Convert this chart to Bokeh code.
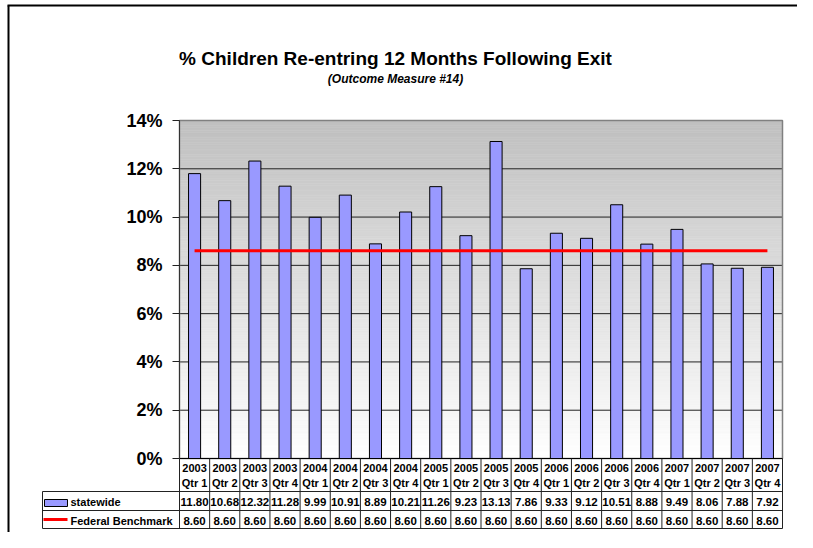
import numpy as np
from bokeh.plotting import figure
from bokeh.models import Range1d, LinearAxis, FixedTicker, PrintfTickFormatter
from bokeh.core.properties import value
from bokeh.embed import file_html
from bokeh.resources import INLINE

# ---------------- data ----------------
years = ["2003", "2003", "2003", "2003", "2004", "2004", "2004", "2004",
         "2005", "2005", "2005", "2005", "2006", "2006", "2006", "2006",
         "2007", "2007", "2007", "2007"]
quarters = ["Qtr 1", "Qtr 2", "Qtr 3", "Qtr 4", "Qtr 1", "Qtr 2", "Qtr 3", "Qtr 4",
            "Qtr 1", "Qtr 2", "Qtr 3", "Qtr 4", "Qtr 1", "Qtr 2", "Qtr 3", "Qtr 4",
            "Qtr 1", "Qtr 2", "Qtr 3", "Qtr 4"]
statewide = [11.80, 10.68, 12.32, 11.28, 9.99, 10.91, 8.89, 10.21, 11.26, 9.23,
             13.13, 7.86, 9.33, 9.12, 10.51, 8.88, 9.49, 8.06, 7.88, 7.92]
benchmark = [8.60, 8.60, 8.60, 8.60, 8.60, 8.60, 8.60, 8.60, 8.60, 8.60,
             8.60, 8.60, 8.60, 8.60, 8.60, 8.60, 8.60, 8.60, 8.60, 8.60]
series_names = ["statewide", "Federal Benchmark"]
y_ticks = [0, 2, 4, 6, 8, 10, 12, 14]
title_text = "% Children Re-entring 12 Months Following Exit"
subtitle_text = "(Outcome Measure #14)"

# ---------------- layout (page pixels) ----------------
W, H = 797, 532
OX, OY = 0, 0          # canvas origin on the page
PL, PR = 179, 782      # plot area left / right
PT, PB = 120, 458      # plot area top (14%) / bottom (0%)
n = len(statewide)
YMAX = y_ticks[-1]
SX = (PR - PL) / n
SY = (PB - PT) / YMAX


def X(px):
    return (px - PL) / SX


def Y(py):
    return (PB - py) / SY


FONT = value("Liberation Sans")
BAR_COLOR = "#9999FF"
LINE_COLOR = "#FF0000"

p = figure(width=W, height=H, output_backend="svg", toolbar_location=None,
           x_range=Range1d(X(OX), X(OX + W)), y_range=Range1d(Y(OY + H), Y(OY)),
           x_axis_type=None, y_axis_type=None, min_border=0)
p.min_border_left = p.min_border_right = p.min_border_top = p.min_border_bottom = 0
p.title.visible = False
p.outline_line_color = None
p.background_fill_color = "white"
p.border_fill_color = "white"

# gradient plot-area background
nstrip = 140
edges = np.linspace(0, YMAX, nstrip + 1)
frac = (edges[:-1] + edges[1:]) / 2 / YMAX
vals = (255 - (255 - 192) * frac).round().astype(int)
cols = ["#%02x%02x%02x" % (v, v, v) for v in vals]
p.quad(left=0, right=n, bottom=edges[:-1], top=edges[1:], fill_color=cols,
       line_color=cols, line_width=0.6)

# horizontal gridlines
gl = y_ticks[1:-1]
p.segment(x0=[0] * len(gl), y0=gl, x1=[n] * len(gl), y1=gl,
          line_color="#222222", line_width=1)

# plot area border (gray)
p.quad(left=0, right=n, bottom=0, top=YMAX, fill_color=None,
       line_color="#808080", line_width=1.5)

# bars
xs = [i + 0.5 for i in range(n)]
p.vbar(x=xs, top=statewide, bottom=0, width=0.4, fill_color=BAR_COLOR,
       line_color="black", line_width=1)

# benchmark line
p.line(xs, benchmark, line_color=LINE_COLOR, line_width=3)

# y axis
yaxis = LinearAxis(fixed_location=0, bounds=(0, YMAX),
                   ticker=FixedTicker(ticks=y_ticks),
                   formatter=PrintfTickFormatter(format="%d%%"))
yaxis.axis_line_color = "#333333"
yaxis.axis_line_width = 1
yaxis.major_tick_out = 7
yaxis.major_tick_in = 0
yaxis.major_tick_line_color = "#222222"
yaxis.minor_tick_out = 0
yaxis.minor_tick_in = 0
yaxis.major_label_text_font = "Liberation Sans"
yaxis.major_label_text_font_size = "18px"
yaxis.major_label_text_font_style = "bold"
yaxis.major_label_text_color = "black"
yaxis.major_label_standoff = 10
p.add_layout(yaxis, "left")

# ---------------- data table ----------------
TL = 42  # table left (legend column)
rows_y = [491, 510, 528]
tbl_col = "#222222"
p.segment(x0=[0], y0=[0], x1=[n], y1=[0], line_color="black", line_width=1.2)
p.segment(x0=list(range(n + 1)), y0=[0] * (n + 1), x1=list(range(n + 1)),
          y1=[Y(528)] * (n + 1), line_color=tbl_col, line_width=1)
p.segment(x0=[X(TL)], y0=[Y(491)], x1=[X(TL)], y1=[Y(528)], line_color=tbl_col, line_width=1)
p.segment(x0=[X(TL)] * 3, y0=[Y(r) for r in rows_y], x1=[n] * 3,
          y1=[Y(r) for r in rows_y], line_color=tbl_col, line_width=1)

p.text(x=xs, y=[Y(467)] * n, text=years, text_font=FONT, text_font_size="11px",
       text_font_style="bold", text_align="center", text_baseline="middle", text_color="black")
p.text(x=xs, y=[Y(482)] * n, text=quarters, text_font=FONT, text_font_size="11px",
       text_font_style="bold", text_align="center", text_baseline="middle", text_color="black")
p.text(x=xs, y=[Y(501)] * n, text=["%.2f" % v for v in statewide], text_font=FONT,
       text_font_size="11.5px", text_font_style="bold", text_align="center",
       text_baseline="middle", text_color="black")
p.text(x=xs, y=[Y(520)] * n, text=["%.2f" % v for v in benchmark], text_font=FONT,
       text_font_size="11.5px", text_font_style="bold", text_align="center",
       text_baseline="middle", text_color="black")

# legend keys
p.quad(left=[X(44)], right=[X(67)], bottom=[Y(506)], top=[Y(499)],
       fill_color=BAR_COLOR, line_color="black", line_width=1)
p.segment(x0=[X(43)], y0=[Y(519)], x1=[X(67)], y1=[Y(519)],
          line_color=LINE_COLOR, line_width=3)
p.text(x=[X(70), X(70)], y=[Y(501), Y(520)], text=series_names, text_font=FONT,
       text_font_size="11px", text_font_style="bold", text_align="left",
       text_baseline="middle", text_color="black")

# titles
p.text(x=[X(395)], y=[Y(58)], text=[title_text], text_font=FONT, text_font_size="19px",
       text_font_style="bold", text_align="center", text_baseline="middle", text_color="black")
p.text(x=[X(395)], y=[Y(78)], text=[subtitle_text], text_font=FONT, text_font_size="12px",
       text_font_style="bold italic", text_align="center", text_baseline="middle",
       text_color="black")

# outer chart border (left and top)
p.segment(x0=[X(8), X(7)], y0=[Y(5), Y(5)], x1=[X(8), X(W)], y1=[Y(H), Y(5)],
          line_color="black", line_width=2)

open("out.html", "w").write(file_html(p, INLINE))
